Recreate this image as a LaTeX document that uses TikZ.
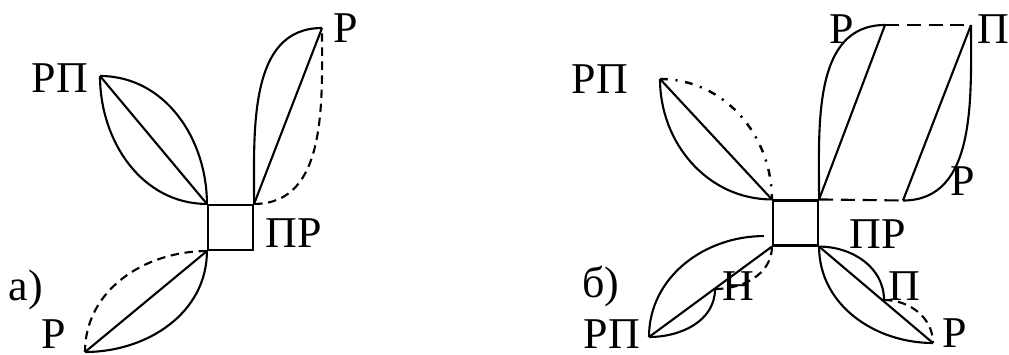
\documentclass[tikz,border=0pt]{standalone}
\usepackage{fontspec}
\setmainfont{Liberation Serif}
\usetikzlibrary{positioning}

\begin{document}
\begin{tikzpicture}[
  x=0.01cm,y=0.01cm,
  box/.style={draw,minimum width=0.45cm,minimum height=0.45cm,inner sep=0pt,line width=0.6pt},
  wire/.style={line width=0.6pt},
  dsh/.style={wire,dash pattern=on 2.4pt off 1.6pt},
  ldsh/.style={wire,dash pattern=on 4pt off 2.2pt},
  dshdot/.style={wire,line width=0.7pt,dash pattern=on 2.2pt off 2.2pt on 0.6pt off 2.2pt},
  lbl/.style={anchor=base,inner sep=0pt,font=\rmfamily\fontsize{12.5}{15}\selectfont},
]
  \useasboundingbox (0,0) rectangle (1009,-354);

  % a)
  \node[box] (sqa) at (230.5,-227.5) {};
  \coordinate (a-rp) at (100,-76);
  \coordinate (a-r1) at (322,-28);
  \coordinate (a-r2) at (85,-352);

  \draw[wire] (a-rp) -- (sqa.north west);
  \draw[wire] (a-rp) to[out=0,in=90] (sqa.north west);
  \draw[wire] (a-rp) to[out=-90,in=180] (sqa.north west);

  \draw[wire] (sqa.north east) -- (a-r1);
  \draw[wire] (sqa.north east) to[out=90,in=180] (a-r1);
  \draw[dsh] (sqa.north east) to[out=0,in=-90] (a-r1);

  \draw[wire] (sqa.south west) -- (a-r2);
  \draw[dsh] (sqa.south west) to[out=180,in=90] (a-r2);
  \draw[wire] (sqa.south west) to[out=-90,in=0] (a-r2);

  \node[lbl] (ta-rp) at (60,-92) {РП};
  \node[lbl] (ta-r1) at (346,-42) {Р};
  \node[lbl] (ta-pr) at (294,-247) {ПР};
  \node[lbl] (ta-r2) at (54,-348) {Р};
  \node[lbl] (ta) at (26,-300) {а)};

  % b)
  \node[box] (sqb) at (795.5,-223) {};
  \coordinate (b-rp1) at (660,-79);
  \coordinate (b-r1) at (885,-25);
  \coordinate (b-p1) at (971,-25);
  \coordinate (b-r2) at (903,-200.5);
  \coordinate (b-rp2) at (649,-337);
  \coordinate (b-n) at (715,-289);
  \coordinate (b-r3) at (933,-343);
  \coordinate (b-p2) at (884,-300);

  \draw[wire] (b-rp1) -- (sqb.north west);
  \draw[wire] (b-rp1) to[out=-90,in=180] (sqb.north west);
  \draw[dshdot] (b-rp1) to[out=0,in=90] (sqb.north west);

  \draw[wire] (sqb.north east) -- (b-r1);
  \draw[wire] (sqb.north east) to[out=90,in=180] (b-r1);
  \draw[ldsh] (b-r1) -- (b-p1);
  \draw[wire] (b-p1) -- (b-r2);
  \draw[wire] (b-p1) to[out=-90,in=0] (b-r2);
  \draw[ldsh] (sqb.north east) -- (b-r2);

  \draw[wire] (sqb.south west) -- (b-rp2);
  \draw[wire] ([xshift=-0.08cm,yshift=0.105cm]sqb.south west) to[out=180,in=90] (b-rp2);
  \draw[wire] (b-rp2) to[out=0,in=-90] (b-n);
  \draw[dsh] (b-n) to[out=0,in=-90] (sqb.south west);

  \draw[wire] (sqb.south east) -- (b-r3);
  \draw[wire] (sqb.south east) to[out=-90,in=180] (b-r3);
  \draw[wire] (sqb.south east) to[out=0,in=90] (b-p2);
  \draw[dsh] (b-p2) to[out=0,in=90] (b-r3);

  \node[lbl] (tb-rp1) at (600,-93) {РП};
  \node[lbl] (tb-r1) at (842,-43) {Р};
  \node[lbl] (tb-p1) at (993,-43) {П};
  \node[lbl] (tb-r2) at (963,-195) {Р};
  \node[lbl] (tb-pr) at (878,-248) {ПР};
  \node[lbl] (tb-n) at (738,-300) {Н};
  \node[lbl] (tb-p2) at (904,-300) {П};
  \node[lbl] (tb-r3) at (955,-347) {Р};
  \node[lbl] (tb-rp2) at (612,-348) {РП};
  \node[lbl] (tb) at (601,-297) {б)};
\end{tikzpicture}
\end{document}
